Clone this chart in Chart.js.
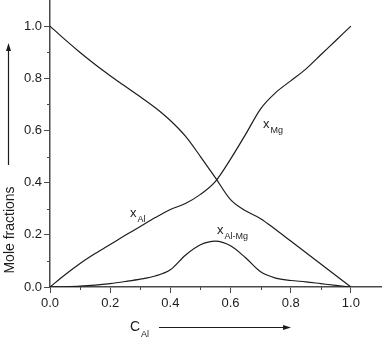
<!DOCTYPE html>
<html>
<head>
<meta charset="utf-8">
<script src="https://cdn.jsdelivr.net/npm/chart.js@4"></script>
<style>
  html, body { margin: 0; padding: 0; background: #fff; }
  #wrap { width: 386px; height: 340px; }
</style>
</head>
<body>
<div id="wrap"><canvas id="chart" width="386" height="340"></canvas></div>
<script>
// composition C_Al
const cAl = [0, 0.05, 0.1, 0.15, 0.2, 0.25, 0.3, 0.35, 0.4, 0.45, 0.5,
             0.55, 0.6, 0.65, 0.7, 0.75, 0.8, 0.85, 0.9, 0.95, 1.0];
// curve rising from 0 to 1
const risingCurve = [0, 0.047, 0.09, 0.128, 0.163, 0.198, 0.232, 0.266, 0.297, 0.32, 0.355,
                     0.405, 0.49, 0.585, 0.683, 0.745, 0.79, 0.835, 0.89, 0.945, 1.0];
// curve falling from 1 to 0
const fallingCurve = [1.0, 0.948, 0.899, 0.853, 0.81, 0.769, 0.729, 0.687, 0.638, 0.578, 0.50,
                      0.418, 0.335, 0.292, 0.262, 0.22, 0.176, 0.132, 0.088, 0.044, 0];
// x_Al-Mg
const pairCurve = [0, 0.001, 0.003, 0.007, 0.013, 0.021, 0.03, 0.042, 0.066, 0.122, 0.162,
                   0.176, 0.158, 0.112, 0.058, 0.034, 0.025, 0.02, 0.013, 0.006, 0];

const xTicks = [0, 0.2, 0.4, 0.6, 0.8, 1.0];
const yTicks = [0, 0.2, 0.4, 0.6, 0.8, 1.0];
const minorTicks = [0.1, 0.3, 0.5, 0.7, 0.9];

// curve labels: [main, subscript, C_Al, fraction]
const curveLabels = [
  ['x', 'Al', 0.266, 0.268],
  ['x', 'Mg', 0.708, 0.609],
  ['x', 'Al-Mg', 0.555, 0.203],
];

const FONT = '"Liberation Sans", Arial, Helvetica, sans-serif';
const INK = '#1c1c1c';
const AXIS = '#4a4a4a';

const toPoints = ys => cAl.map((c, i) => ({ x: c, y: ys[i] }));

function arrow(ctx, x1, y1, x2, y2) {
  const ang = Math.atan2(y2 - y1, x2 - x1);
  const len = 8, half = 2.5;
  ctx.beginPath();
  ctx.moveTo(x1, y1);
  ctx.lineTo(x2 - Math.cos(ang) * len, y2 - Math.sin(ang) * len);
  ctx.stroke();
  ctx.beginPath();
  ctx.moveTo(x2, y2);
  ctx.lineTo(x2 - Math.cos(ang) * len - Math.sin(ang) * half, y2 - Math.sin(ang) * len + Math.cos(ang) * half);
  ctx.lineTo(x2 - Math.cos(ang) * len + Math.sin(ang) * half, y2 - Math.sin(ang) * len - Math.cos(ang) * half);
  ctx.closePath();
  ctx.fill();
}

const decorations = {
  id: 'decorations',
  afterDraw(chart) {
    const { ctx, scales: { x, y } } = chart;
    ctx.save();

    // minor ticks
    ctx.strokeStyle = AXIS;
    ctx.lineWidth = 1;
    minorTicks.forEach(v => {
      const px = Math.round(x.getPixelForValue(v)) + 0.5;
      ctx.beginPath(); ctx.moveTo(px, y.bottom); ctx.lineTo(px, y.bottom + 3); ctx.stroke();
      const py = Math.round(y.getPixelForValue(v)) + 0.5;
      ctx.beginPath(); ctx.moveTo(x.left, py); ctx.lineTo(x.left - 3, py); ctx.stroke();
    });

    // curve labels
    ctx.fillStyle = INK;
    ctx.textBaseline = 'alphabetic';
    ctx.textAlign = 'left';
    curveLabels.forEach(([main, sub, cx, cy]) => {
      const px = x.getPixelForValue(cx);
      const py = y.getPixelForValue(cy);
      ctx.font = '13px ' + FONT;
      ctx.fillText(main, px, py);
      const w = ctx.measureText(main).width;
      ctx.font = '9px ' + FONT;
      ctx.fillText(sub, px + w + 1, py + 5);
    });

    // y title with arrow
    ctx.save();
    ctx.translate(14, 230);
    ctx.rotate(-Math.PI / 2);
    ctx.textAlign = 'center';
    ctx.font = '14px ' + FONT;
    ctx.fillText('Mole fractions', 0, 0);
    ctx.restore();
    ctx.strokeStyle = INK;
    ctx.fillStyle = INK;
    ctx.lineWidth = 1.2;
    arrow(ctx, 8.5, 165, 8.5, 43);

    // x title with arrow
    ctx.font = '14px ' + FONT;
    ctx.fillText('C', 130, 331);
    ctx.font = '9px ' + FONT;
    ctx.fillText('Al', 141, 337);
    arrow(ctx, 159, 327.5, 291, 327.5);

    ctx.restore();
  }
};

// replace generated ticks with the fixed major ticks
const setTicks = list => scale => {
  scale.ticks = list.map(v => ({ value: v }));
};

const axisBase = {
  type: 'linear',
  min: 0,
  max: 1.1,
  grid: { drawOnChartArea: false, drawTicks: true, tickLength: 6, color: AXIS, lineWidth: 1 },
  border: { display: true, color: AXIS, width: 1.5 },
};

new Chart(document.getElementById('chart'), {
  type: 'scatter',
  data: {
    datasets: [
      { label: 'rising', data: toPoints(risingCurve) },
      { label: 'falling', data: toPoints(fallingCurve) },
      { label: 'x Al-Mg', data: toPoints(pairCurve) },
    ].map(d => ({
      ...d,
      showLine: true,
      borderColor: INK,
      borderWidth: 1.2,
      pointRadius: 0,
      cubicInterpolationMode: 'monotone',
    })),
  },
  options: {
    responsive: false,
    animation: false,
    layout: { padding: { left: 0, right: 5, top: 0, bottom: 0 } },
    plugins: { legend: { display: false }, tooltip: { enabled: false } },
    scales: {
      x: {
        ...axisBase,
        ticks: {
          padding: 3, color: INK,
          font: { size: 13, family: FONT },
          maxRotation: 0,
          autoSkip: false,
          callback: v => Number(v).toFixed(1),
        },
        afterBuildTicks: setTicks(xTicks),
        afterFit: s => { s.height = 53; s.paddingLeft = 0; s.paddingRight = 0; },
      },
      y: {
        ...axisBase,
        ticks: {
          padding: 2, color: INK,
          font: { size: 13, family: FONT },
          autoSkip: false,
          callback: v => Number(v).toFixed(1),
        },
        afterBuildTicks: setTicks(yTicks),
        afterFit: s => { s.width = 50; s.paddingTop = 0; s.paddingBottom = 0; },
      },
    },
  },
  plugins: [decorations],
});
</script>
</body>
</html>
